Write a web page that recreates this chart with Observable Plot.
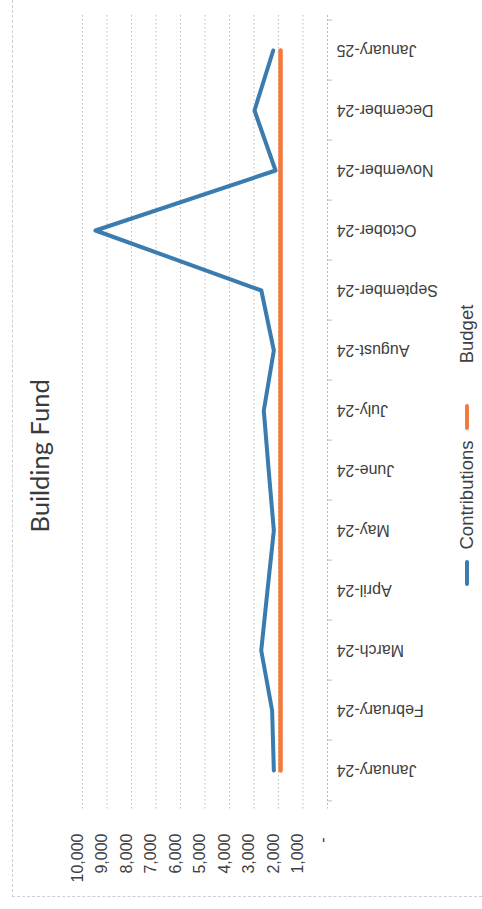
<!DOCTYPE html>
<html>
<head>
<meta charset="utf-8">
<script src="https://cdn.jsdelivr.net/npm/d3@7"></script>
<script src="https://cdn.jsdelivr.net/npm/@observablehq/plot@0.6"></script>
<style>
  html, body { margin: 0; padding: 0; background: #fff; }
  #wrap { position: relative; width: 482px; height: 909px; overflow: hidden; }
  #border { position: absolute; left: 12px; top: 0; width: 470px; height: 897px;
            border-left: 1px dashed #cfcfcf; border-bottom: 1px dashed #cfcfcf; box-sizing: border-box; pointer-events: none; }
  .leg-text { position: absolute; transform: translate(-50%, -50%) rotate(-90deg); white-space: nowrap;
              font-family: "Liberation Sans", Arial, sans-serif; font-size: 18.5px; color: #404040; }
  .leg-sw { position: absolute; width: 4px; border-radius: 2px; }
</style>
</head>
<body>
<div id="wrap"><div id="border"></div></div>
<script>
const months = ["January-24","February-24","March-24","April-24","May-24","June-24","July-24",
                "August-24","September-24","October-24","November-24","December-24","January-25"];
const contributions = [2190, 2260, 2705, 2450, 2190, 2400, 2600, 2190, 2700, 9470, 2120, 2980, 2215];
const budget = [1917, 1917, 1917, 1917, 1917, 1917, 1917, 1917, 1917, 1917, 1917, 1917, 1917];
const valueTicks = [0, 1000, 2000, 3000, 4000, 5000, 6000, 7000, 8000, 9000, 10000];
const tickLabels = ["-", "1,000", "2,000", "3,000", "4,000", "5,000", "6,000", "7,000", "8,000", "9,000", "10,000"];
const seriesNames = ["Contributions", "Budget"];
const seriesColors = ["#3a7bb0", "#f37a3c"];
const title = "Building Fund";

const data = months.map((m, i) => ({month: m, contributions: contributions[i], budget: budget[i]}));
const tickData = valueTicks.map((v, i) => ({v, label: tickLabels[i]}));
const textColor = "#404040";
const fontFam = "Liberation Sans, Arial, sans-serif";

const chart = Plot.plot({
  width: 482,
  height: 909,
  marginLeft: 82,
  marginRight: 155,
  marginTop: 15,
  marginBottom: 104,
  style: {fontFamily: fontFam, background: "transparent", overflow: "visible"},
  x: {domain: [0, 10000], reverse: true, axis: null},
  y: {type: "point", domain: months, reverse: true, padding: 0.5, axis: null},
  marks: [
    Plot.gridX(valueTicks, {stroke: "#bdbdbd", strokeOpacity: 1, strokeDasharray: "1.5,2.5", insetBottom: -6}),
    Plot.ruleX([0], {stroke: "#bdbdbd", strokeDasharray: "2,2"}),
    Plot.ruleY(months, {y: d => d, x1: 0, x2: -200, dy: -30.4, stroke: "#bdbdbd"}),
    Plot.ruleY(months.slice(0, 1), {y: d => d, x1: 0, x2: -200, dy: 30.4, stroke: "#bdbdbd"}),
    Plot.text(tickData.filter(d => d.v !== 0), {x: "v", text: "label", frameAnchor: "bottom", dy: 28, rotate: -90,
      textAnchor: "end", fontSize: 16, fill: textColor}),
    Plot.text(tickData.filter(d => d.v === 0), {x: "v", text: "label", frameAnchor: "bottom", dy: 32, rotate: -90,
      textAnchor: "end", fontSize: 16, fill: textColor}),
    Plot.text(months, {y: d => d, text: d => d, frameAnchor: "right", dx: 9, rotate: 180, textAnchor: "end",
      fontSize: 16, fill: textColor}),
    Plot.line(data, {x: "contributions", y: "month", stroke: seriesColors[0], strokeWidth: 4,
      strokeLinecap: "round", strokeLinejoin: "round"}),
    Plot.line(data, {x: "budget", y: "month", stroke: seriesColors[1], strokeWidth: 4.5,
      strokeLinecap: "round", strokeLinejoin: "round"}),
    Plot.text([title], {frameAnchor: "left", dx: -42, dy: 122, rotate: -90, fontSize: 25.5,
      fontFamily: "Lato, sans-serif", fill: "#3a3a3a"})
  ]
});
chart.style.position = "absolute";
chart.style.left = "0px";
chart.style.top = "0px";
const wrap = document.getElementById("wrap");
wrap.appendChild(chart);

// legend (vertical, on the right)
const legend = [
  {name: seriesNames[0], color: seriesColors[0], textY: 495, swTop: 560, swH: 26},
  {name: seriesNames[1], color: seriesColors[1], textY: 333.5, swTop: 404, swH: 26}
];
for (const l of legend) {
  const t = document.createElement("div");
  t.className = "leg-text";
  t.style.left = "466.7px";
  t.style.top = l.textY + "px";
  t.textContent = l.name;
  wrap.appendChild(t);
  const s = document.createElement("div");
  s.className = "leg-sw";
  s.style.left = "465px";
  s.style.top = l.swTop + "px";
  s.style.height = l.swH + "px";
  s.style.background = l.color;
  wrap.appendChild(s);
}
</script>
</body>
</html>
